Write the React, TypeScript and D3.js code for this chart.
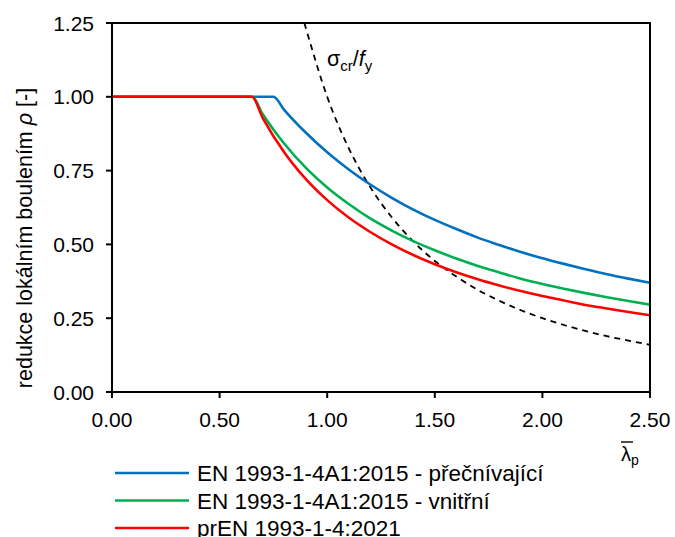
import React from "react";
import * as d3 from "d3";

const W = 675;
const H = 537;

const xTicks = [0, 0.5, 1.0, 1.5, 2.0, 2.5];
const yTicks = [0, 0.25, 0.5, 0.75, 1.0, 1.25];

// slenderness values
const lamOut = [0, 0.75, 0.8, 0.9, 1.0, 1.1, 1.2, 1.3, 1.4, 1.5, 1.6, 1.7, 1.8, 1.9, 2.0, 2.1, 2.2, 2.3, 2.4, 2.5];
const rhoOut = [1, 1, 0.956, 0.879, 0.812, 0.754, 0.703, 0.658, 0.618, 0.583, 0.552, 0.523, 0.498, 0.474, 0.453, 0.434, 0.416, 0.399, 0.384, 0.37];

const lamInt = [0, 0.651, 0.7, 0.8, 0.9, 1.0, 1.1, 1.2, 1.3, 1.4, 1.5, 1.6, 1.7, 1.8, 1.9, 2.0, 2.1, 2.2, 2.3, 2.4, 2.5];
const rhoInt = [1, 1, 0.942, 0.842, 0.76, 0.693, 0.637, 0.588, 0.547, 0.511, 0.48, 0.452, 0.427, 0.405, 0.384, 0.366, 0.35, 0.335, 0.321, 0.308, 0.296];

const lamPr = [0, 0.65, 0.7, 0.8, 0.9, 1.0, 1.1, 1.2, 1.3, 1.4, 1.5, 1.6, 1.7, 1.8, 1.9, 2.0, 2.1, 2.2, 2.3, 2.4, 2.5];
const rhoPr = [1, 1, 0.929, 0.8125, 0.722, 0.65, 0.591, 0.542, 0.5, 0.464, 0.433, 0.406, 0.382, 0.361, 0.342, 0.325, 0.31, 0.295, 0.283, 0.271, 0.26];

const lamCr = [0.894, 0.9, 1.0, 1.1, 1.2, 1.3, 1.4, 1.5, 1.6, 1.7, 1.8, 1.9, 2.0, 2.1, 2.2, 2.3, 2.4, 2.5];
const sigCr = [1.25, 1.235, 1.0, 0.826, 0.694, 0.592, 0.51, 0.444, 0.391, 0.346, 0.309, 0.277, 0.25, 0.227, 0.207, 0.189, 0.174, 0.16];

const seriesNames = [
  "EN 1993-1-4A1:2015 - přečnívající",
  "EN 1993-1-4A1:2015 - vnitřní",
  "prEN 1993-1-4:2021",
];
const seriesColors = ["#0070C0", "#00B050", "#FF0000"];

export default function App() {
  const x = d3.scaleLinear().domain([0, 2.5]).range([112, 650]);
  const y = d3.scaleLinear().domain([0, 1.25]).range([392, 23]);
  const font = "Liberation Sans, Arial, Helvetica, sans-serif";
  const fs = 21;

  const mk = (xs: number[], ys: number[]) =>
    d3
      .line<number>()
      .x((_, i) => x(xs[i]))
      .y((_, i) => y(ys[i]))
      .curve(d3.curveMonotoneX)(xs) as string;

  const series = [
    { xs: lamOut, ys: rhoOut },
    { xs: lamInt, ys: rhoInt },
    { xs: lamPr, ys: rhoPr },
  ];

  return (
    <svg width={W} height={H} style={{ position: "absolute", left: 0, top: 0 }} fontFamily={font}>
      <rect x={0} y={0} width={W} height={H} fill="#fff" />
      <defs>
        <clipPath id="plot">
          <rect x={112} y={23} width={538} height={369} />
        </clipPath>
      </defs>
      {/* dashed critical stress curve */}
      <path
        d={mk(lamCr, sigCr)}
        fill="none"
        stroke="#000"
        strokeWidth={1.8}
        strokeDasharray="6,5"
        clipPath="url(#plot)"
      />
      {series.map((s, i) => (
        <path
          key={i}
          d={mk(s.xs, s.ys)}
          fill="none"
          stroke={seriesColors[i]}
          strokeWidth={2.6}
          clipPath="url(#plot)"
        />
      ))}
      {/* frame */}
      <rect x={112} y={23} width={538} height={369} fill="none" stroke="#000" strokeWidth={2} />
      {/* y ticks */}
      {yTicks.map((t) => (
        <g key={"y" + t}>
          <line x1={106} x2={112} y1={y(t)} y2={y(t)} stroke="#000" strokeWidth={2} />
          <text x={94} y={y(t)} dy="0.36em" textAnchor="end" fontSize={fs} fill="#000">
            {t.toFixed(2)}
          </text>
        </g>
      ))}
      {/* x ticks */}
      {xTicks.map((t) => (
        <g key={"x" + t}>
          <line x1={x(t)} x2={x(t)} y1={392} y2={398} stroke="#000" strokeWidth={2} />
          <text x={x(t)} y={427} textAnchor="middle" fontSize={fs} fill="#000">
            {t.toFixed(2)}
          </text>
        </g>
      ))}
      {/* y label */}
      <text
        transform="translate(32,238) rotate(-90)"
        textAnchor="middle"
        fontSize={21.5}
        fill="#000"
      >
        redukce lokálním boulením <tspan fontStyle="italic">ρ</tspan> [-]
      </text>
      {/* x label lambda_p with bar */}
      <line x1={621} x2={633} y1={442} y2={442} stroke="#000" strokeWidth={1.4} />
      <text x={621} y={461} fontSize={20} fill="#000">
        λ<tspan fontSize={14} dy={4}>p</tspan>
      </text>
      {/* sigma_cr / f_y */}
      <text x={327} y={66} fontSize={21.5} fill="#000">
        σ<tspan fontSize={15} dy={5}>cr</tspan>
        <tspan dy={-5}>/</tspan>
        <tspan fontStyle="italic">f</tspan>
        <tspan fontSize={15} dy={5}>y</tspan>
      </text>
      {/* legend */}
      {seriesNames.map((n, i) => (
        <g key={n}>
          <line
            x1={115}
            x2={189}
            y1={473 + i * 27.5}
            y2={473 + i * 27.5}
            stroke={seriesColors[i]}
            strokeWidth={2.6}
          />
          <text x={197} y={473 + i * 27.5} dy="0.36em" fontSize={22.5} fill="#000">
            {n}
          </text>
        </g>
      ))}
    </svg>
  );
}
